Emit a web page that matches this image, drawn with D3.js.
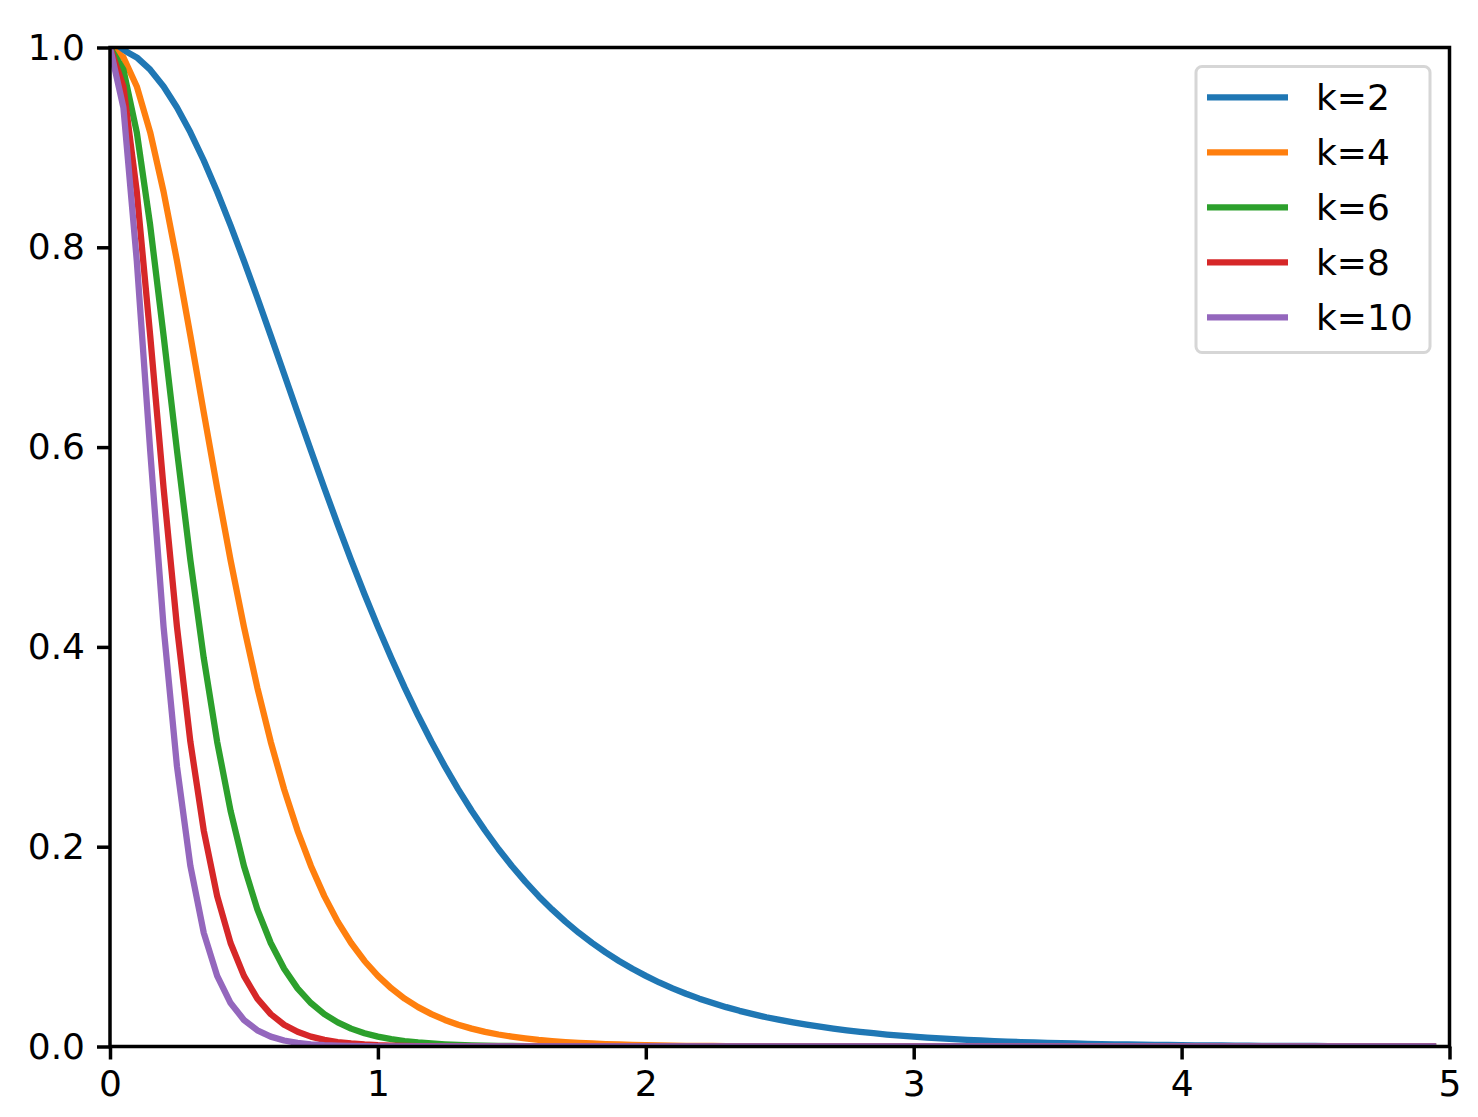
<!DOCTYPE html>
<meta charset="utf-8">
<title>k curves</title>
<body>
<script src="https://cdn.jsdelivr.net/npm/d3@7"></script>
<style>
html, body {
    margin: 0;
    background: #fff;
}
svg {
    display: block;
}
text {
    font-family: "DejaVu Sans", sans-serif;
    font-size: 36px;
    fill: #000;
}
</style>
<svg></svg>
<script>
// sample grid, step 0.05
var xs = [0, 0.05, 0.1, 0.15, 0.2, 0.25, 0.3, 0.35, 0.4, 0.45,
    0.5, 0.55, 0.6, 0.65, 0.7, 0.75, 0.8, 0.85, 0.9, 0.95,
    1, 1.05, 1.1, 1.15, 1.2, 1.25, 1.3, 1.35, 1.4, 1.45,
    1.5, 1.55, 1.6, 1.65, 1.7, 1.75, 1.8, 1.85, 1.9, 1.95,
    2, 2.05, 2.1, 2.15, 2.2, 2.25, 2.3, 2.35, 2.4, 2.45,
    2.5, 2.55, 2.6, 2.65, 2.7, 2.75, 2.8, 2.85, 2.9, 2.95,
    3, 3.05, 3.1, 3.15, 3.2, 3.25, 3.3, 3.35, 3.4, 3.45,
    3.5, 3.55, 3.6, 3.65, 3.7, 3.75, 3.8, 3.85, 3.9, 3.95,
    4, 4.05, 4.1, 4.15, 4.2, 4.25, 4.3, 4.35, 4.4, 4.45,
    4.5, 4.55, 4.6, 4.65, 4.7, 4.75, 4.8, 4.85, 4.9, 4.95];

var k2 = [1, 0.9975, 0.9901, 0.9778, 0.9610, 0.9400, 0.9151, 0.8869, 0.8556, 0.8220,
    0.7864, 0.7495, 0.7116, 0.6732, 0.6347, 0.5966, 0.5591, 0.5224, 0.4869, 0.4527,
    0.4200, 0.3888, 0.3592, 0.3313, 0.3050, 0.2804, 0.2574, 0.2360, 0.2162, 0.1977,
    0.1807, 0.1650, 0.1505, 0.1372, 0.1250, 0.1138, 0.1036, 0.0942, 0.0856, 0.0778,
    0.0707, 0.0641, 0.0582, 0.0528, 0.0479, 0.0435, 0.0394, 0.0357, 0.0324, 0.0293,
    0.0266, 0.0241, 0.0218, 0.0198, 0.0179, 0.0162, 0.0147, 0.0133, 0.0120, 0.0109,
    0.0099, 0.0089, 0.0081, 0.0073, 0.0066, 0.0060, 0.0054, 0.0049, 0.0044, 0.0040,
    0.0036, 0.0033, 0.0030, 0.0027, 0.0024, 0.0022, 0.0020, 0.0018, 0.0016, 0.0015,
    0.0013, 0.0012, 0.0011, 0.0010, 0.0009, 0.0008, 0.0007, 0.0007, 0.0006, 0.0005,
    0.0005, 0.0004, 0.0004, 0.0004, 0.0003, 0.0003, 0.0003, 0.0002, 0.0002, 0.0002];

var k4 = [1, 0.9901, 0.9610, 0.9151, 0.8556, 0.7864, 0.7116, 0.6347, 0.5591, 0.4869,
    0.4200, 0.3592, 0.3050, 0.2574, 0.2162, 0.1807, 0.1505, 0.1250, 0.1036, 0.0856,
    0.0707, 0.0582, 0.0479, 0.0394, 0.0324, 0.0266, 0.0218, 0.0179, 0.0147, 0.0120,
    0.0099, 0.0081, 0.0066, 0.0054, 0.0044, 0.0036, 0.0030, 0.0024, 0.0020, 0.0016,
    0.0013, 0.0011, 0.0009, 0.0007, 0.0006, 0.0005, 0.0004, 0.0003, 0.0003, 0.0002,
    0.0002, 0.0001, 0.0001, 0.0001, 0, 0, 0, 0, 0, 0,
    0, 0, 0, 0, 0, 0, 0, 0, 0, 0,
    0, 0, 0, 0, 0, 0, 0, 0, 0, 0,
    0, 0, 0, 0, 0, 0, 0, 0, 0, 0,
    0, 0, 0, 0, 0, 0, 0, 0, 0, 0];

var k6 = [1, 0.9778, 0.9151, 0.8220, 0.7116, 0.5966, 0.4869, 0.3888, 0.3050, 0.2360,
    0.1807, 0.1372, 0.1036, 0.0778, 0.0582, 0.0435, 0.0324, 0.0241, 0.0179, 0.0133,
    0.0099, 0.0073, 0.0054, 0.0040, 0.0030, 0.0022, 0.0016, 0.0012, 0.0009, 0.0007,
    0.0005, 0.0004, 0.0003, 0.0002, 0.0001, 0.0001, 0.0001, 0, 0, 0,
    0, 0, 0, 0, 0, 0, 0, 0, 0, 0,
    0, 0, 0, 0, 0, 0, 0, 0, 0, 0,
    0, 0, 0, 0, 0, 0, 0, 0, 0, 0,
    0, 0, 0, 0, 0, 0, 0, 0, 0, 0,
    0, 0, 0, 0, 0, 0, 0, 0, 0, 0,
    0, 0, 0, 0, 0, 0, 0, 0, 0, 0];

var k8 = [1, 0.9610, 0.8556, 0.7116, 0.5591, 0.4200, 0.3050, 0.2162, 0.1505, 0.1036,
    0.0707, 0.0479, 0.0324, 0.0218, 0.0147, 0.0099, 0.0066, 0.0044, 0.0030, 0.0020,
    0.0013, 0.0009, 0.0006, 0.0004, 0.0003, 0.0002, 0.0001, 0.0001, 0, 0,
    0, 0, 0, 0, 0, 0, 0, 0, 0, 0,
    0, 0, 0, 0, 0, 0, 0, 0, 0, 0,
    0, 0, 0, 0, 0, 0, 0, 0, 0, 0,
    0, 0, 0, 0, 0, 0, 0, 0, 0, 0,
    0, 0, 0, 0, 0, 0, 0, 0, 0, 0,
    0, 0, 0, 0, 0, 0, 0, 0, 0, 0,
    0, 0, 0, 0, 0, 0, 0, 0, 0, 0];

var k10 = [1, 0.9400, 0.7864, 0.5966, 0.4200, 0.2804, 0.1807, 0.1138, 0.0707, 0.0435,
    0.0266, 0.0162, 0.0099, 0.0060, 0.0036, 0.0022, 0.0013, 0.0008, 0.0005, 0.0003,
    0.0002, 0.0001, 0, 0, 0, 0, 0, 0, 0, 0,
    0, 0, 0, 0, 0, 0, 0, 0, 0, 0,
    0, 0, 0, 0, 0, 0, 0, 0, 0, 0,
    0, 0, 0, 0, 0, 0, 0, 0, 0, 0,
    0, 0, 0, 0, 0, 0, 0, 0, 0, 0,
    0, 0, 0, 0, 0, 0, 0, 0, 0, 0,
    0, 0, 0, 0, 0, 0, 0, 0, 0, 0,
    0, 0, 0, 0, 0, 0, 0, 0, 0, 0];

var labels = ["k=2", "k=4", "k=6", "k=8", "k=10"];
var colors = ["#1f77b4", "#ff7f0e", "#2ca02c", "#d62728", "#9467bd"];
var xTicks = [0, 1, 2, 3, 4, 5];
var yTicks = [0, 0.2, 0.4, 0.6, 0.8, 1.0];

var width = 1478,
    height = 1117,
    plotLeft = 110,
    plotRight = 1449.5,
    plotTop = 47.5,
    plotBottom = 1046.5,
    lineWidth = 6.3;

var series = [k2, k4, k6, k8, k10].map(function(ys, i) {
    return {
        label: labels[i],
        color: colors[i],
        points: xs.map(function(x, j) { return [x, ys[j]]; })
    };
});

var svg = d3.select("svg")
    .attr("width", width)
    .attr("height", height);

var x = d3.scaleLinear().domain([0, 5]).range([plotLeft, plotRight]);
var y = d3.scaleLinear().domain([0, 1]).range([plotBottom, plotTop]);

svg.append("defs").append("clipPath")
    .attr("id", "clip")
  .append("rect")
    .attr("x", plotLeft)
    .attr("y", plotTop)
    .attr("width", plotRight - plotLeft)
    .attr("height", plotBottom - plotTop);

var line = d3.line()
    .x(function(d) { return x(d[0]); })
    .y(function(d) { return y(d[1]); });

svg.append("g")
    .attr("clip-path", "url(#clip)")
  .selectAll("path")
    .data(series)
    .enter().append("path")
    .attr("d", function(d) { return line(d.points); })
    .attr("fill", "none")
    .attr("stroke", function(d) { return d.color; })
    .attr("stroke-width", lineWidth)
    .attr("stroke-linejoin", "round");

// axes
var xAxis = svg.append("g")
    .attr("transform", "translate(0," + plotBottom + ")")
    .call(d3.axisBottom(x)
        .tickValues(xTicks)
        .tickFormat(d3.format("d"))
        .tickSize(13)
        .tickPadding(11));

var yAxis = svg.append("g")
    .attr("transform", "translate(" + plotLeft + ",0)")
    .call(d3.axisLeft(y)
        .tickValues(yTicks)
        .tickFormat(d3.format(".1f"))
        .tickSize(13)
        .tickPadding(12));

[xAxis, yAxis].forEach(function(a) {
    a.select(".domain").remove();
    a.selectAll(".tick line")
        .attr("stroke", "#000")
        .attr("stroke-width", 3.5);
    a.selectAll(".tick text")
        .attr("font-family", null)
        .attr("font-size", null)
        .attr("fill", "#000");
});

svg.append("rect")
    .attr("x", plotLeft)
    .attr("y", plotTop)
    .attr("width", plotRight - plotLeft)
    .attr("height", plotBottom - plotTop)
    .attr("fill", "none")
    .attr("stroke", "#000")
    .attr("stroke-width", 3.5);

// legend
var legend = svg.append("g");

legend.append("rect")
    .attr("x", 1196)
    .attr("y", 66.5)
    .attr("width", 234)
    .attr("height", 286)
    .attr("rx", 6)
    .attr("fill", "#fff")
    .attr("fill-opacity", 0.8)
    .attr("stroke", "#d6d6d6")
    .attr("stroke-width", 3);

var item = legend.selectAll(".item")
    .data(series)
    .enter().append("g")
    .attr("class", "item")
    .attr("transform", function(d, i) { return "translate(0," + (97.3 + 55 * i) + ")"; });

item.append("line")
    .attr("x1", 1207)
    .attr("x2", 1288)
    .attr("stroke", function(d) { return d.color; })
    .attr("stroke-width", lineWidth);

item.append("text")
    .attr("x", 1316)
    .attr("dy", "0.36em")
    .text(function(d) { return d.label; });
</script>
